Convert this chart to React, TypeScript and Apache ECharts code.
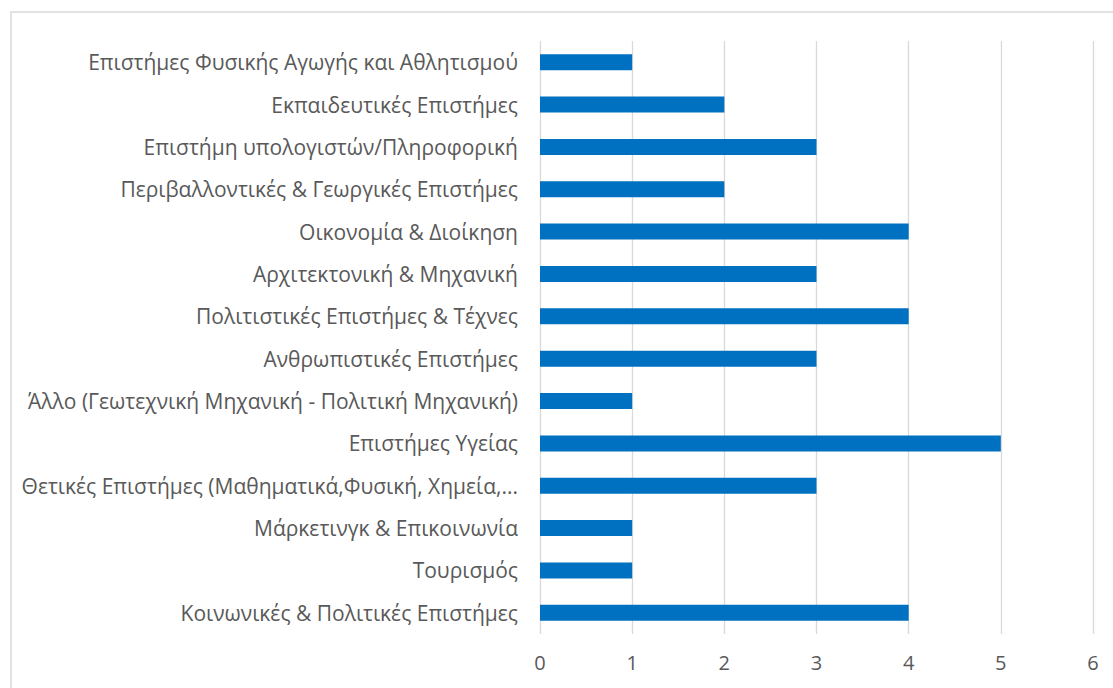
import React, { useEffect, useRef } from "react";
import * as echarts from "echarts";

const categories = [
  "Κοινωνικές & Πολιτικές Επιστήμες",
  "Τουρισμός",
  "Μάρκετινγκ & Επικοινωνία",
  "Θετικές Επιστήμες (Μαθηματικά,Φυσική, Χημεία,...",
  "Επιστήμες Υγείας",
  "Άλλο (Γεωτεχνική Μηχανική - Πολιτική Μηχανική)",
  "Ανθρωπιστικές Επιστήμες",
  "Πολιτιστικές Επιστήμες & Τέχνες",
  "Αρχιτεκτονική & Μηχανική",
  "Οικονομία & Διοίκηση",
  "Περιβαλλοντικές & Γεωργικές Επιστήμες",
  "Επιστήμη υπολογιστών/Πληροφορική",
  "Εκπαιδευτικές Επιστήμες",
  "Επιστήμες Φυσικής Αγωγής και Αθλητισμού",
];
const values = [4, 1, 1, 3, 5, 1, 3, 4, 3, 4, 2, 3, 2, 1];
const xTicks = [0, 1, 2, 3, 4, 5, 6];

export default function App() {
  const ref = useRef<HTMLDivElement>(null);
  useEffect(() => {
    if (!ref.current) return;
    const chart = echarts.init(ref.current, null, { renderer: "svg" });
    const font = "'Open Sans', 'Noto Sans', sans-serif";
    chart.setOption({
      animation: false,
      backgroundColor: "#ffffff",
      textStyle: { fontFamily: font },
      graphic: [
        {
          type: "rect",
          shape: { x: 11, y: 12, width: 1200, height: 800 },
          style: { fill: "none", stroke: "#d9d9d9", lineWidth: 1.5 },
          silent: true,
        },
      ],
      grid: { left: 540, right: 20, top: 41, bottom: 54, containLabel: false },
      xAxis: {
        type: "value",
        min: xTicks[0],
        max: xTicks[xTicks.length - 1],
        interval: 1,
        axisLine: { show: false },
        axisTick: { show: false },
        splitLine: { show: true, lineStyle: { color: "#d9d9d9", width: 1.3 } },
        axisLabel: { color: "#595959", fontSize: 20, margin: 18, fontFamily: font },
      },
      yAxis: {
        type: "category",
        data: categories,
        axisLine: { show: false },
        axisTick: { show: false },
        axisLabel: { color: "#595959", fontSize: 21, margin: 22, fontFamily: font },
      },
      series: [
        {
          type: "bar",
          data: values,
          barWidth: 16,
          itemStyle: { color: "#0070c0" },
        },
      ],
    });
    return () => chart.dispose();
  }, []);
  return (
    <div
      ref={ref}
      style={{ position: "fixed", left: 0, top: 0, width: 1113, height: 688 }}
    />
  );
}
